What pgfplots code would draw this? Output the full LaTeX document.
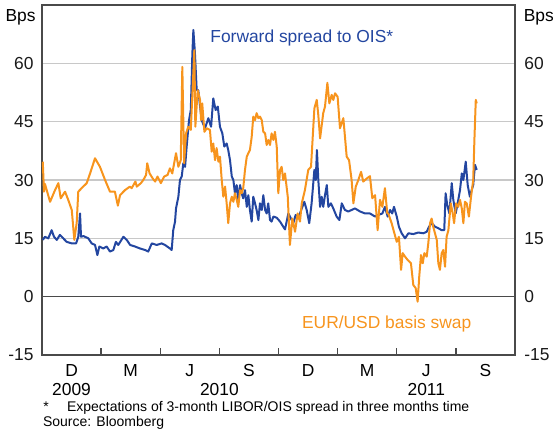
\documentclass[border=0pt]{standalone}
\usepackage{fontspec}
\setmainfont{Liberation Sans}
\usepackage{pgfplots}
\pgfplotsset{compat=1.18}
\definecolor{fwdblue}{HTML}{2346A0}
\definecolor{basisorange}{HTML}{F7941D}
\definecolor{gridgrey}{HTML}{C8C8C8}
\definecolor{framegrey}{HTML}{4A4A4A}

% x = months since 1 Oct 2009
\begin{document}
\begin{tikzpicture}
\pgfplotsset{
  rbaframe/.style={
    width=236.5bp, height=175bp, scale only axis,
    at={(21bp,-177.5bp)}, anchor=south west,
    xmin=0, xmax=24, ymin=-15, ymax=75,
    ytick={-15,0,15,30,45,60},
    yticklabels={-15,0,15,30,45,60},
    tick label style={font=\fontsize{8.7bp}{10bp}\selectfont, text=black!90},
    axis line style={draw=framegrey, line width=0.65bp},
  }
}
\begin{axis}[rbaframe,
  xtick={3,6,...,21}, xticklabels={},
  tick pos=bottom,
  x tick style={draw=framegrey, line width=0.65bp},
  xtick align=inside, major tick length=3.5bp,
  y tick style={draw=none},
  yticklabel style={anchor=east, inner sep=0pt, xshift=-4bp},
  ymajorgrids=true,
  major grid style={draw=gridgrey, line width=0.6bp},
  extra y ticks={0}, extra y tick labels={},
  extra y tick style={grid=major, major grid style={draw=framegrey, line width=0.7bp}, tick style={draw=none}},
  clip=false,
]
\addplot[fwdblue, line width=1bp, line join=round, mark=none] coordinates {
(0.04,14.6) (0.15,15.4) (0.32,15.0) (0.49,17.1) (0.61,15.4) (0.75,14.6) (0.91,15.9)
(1.08,15.0) (1.25,14.1) (1.51,13.7) (1.73,13.7) (1.84,15.4) (1.93,21.4) (1.98,15.4)
(2.10,15.6) (2.35,15.0) (2.52,13.7) (2.69,13.3) (2.81,10.7) (2.91,12.9) (3.11,12.4)
(3.28,12.9) (3.45,11.6) (3.62,12.0) (3.75,14.1) (3.87,13.3) (4.13,15.4) (4.30,14.6)
(4.47,13.3) (4.72,12.9) (4.97,12.4) (5.23,12.0) (5.39,11.6) (5.57,13.7) (5.82,13.3)
(6.07,13.7) (6.24,13.3) (6.49,12.4) (6.58,12.0) (6.66,17.1) (6.75,19.3) (6.80,22.7)
(6.92,25.7) (7.00,30.0) (7.09,30.9) (7.17,34.3) (7.26,33.4) (7.34,38.6) (7.46,45.4)
(7.55,48.0) (7.63,62.6) (7.68,68.6) (7.76,62.6) (7.85,53.1) (7.93,53.1) (8.10,45.4)
(8.27,43.3) (8.44,45.9) (8.58,43.7) (8.69,51.0) (8.81,48.0) (8.92,48.9) (9.03,43.7)
(9.15,42.0) (9.25,38.6) (9.37,39.4) (9.45,37.7) (9.54,35.1) (9.63,30.9) (9.71,30.0)
(9.79,26.6) (9.88,28.7) (9.96,24.9) (10.05,28.7) (10.13,26.6) (10.21,25.3) (10.30,27.4)
(10.39,23.1) (10.47,26.1) (10.55,22.3) (10.64,19.3) (10.72,25.7) (10.81,24.0) (10.89,22.3)
(10.98,19.7) (11.06,24.0) (11.15,22.3) (11.23,26.1) (11.32,22.3) (11.40,21.4) (11.48,24.0)
(11.57,19.7) (11.65,19.3) (11.74,20.6) (11.91,20.3) (12.08,19.3) (12.24,18.0)
(12.33,17.3) (12.50,21.4) (12.63,20.1) (12.75,18.9) (12.87,21.0) (13.00,20.1)
(13.18,22.7) (13.31,24.4) (13.43,22.3) (13.56,18.9) (13.68,24.0) (13.82,32.6) (13.89,30.0)
(13.95,37.7) (14.02,30.0) (14.11,23.1) (14.19,25.7) (14.27,23.1) (14.36,26.1) (14.45,28.7)
(14.53,23.1) (14.66,24.0) (14.78,22.7) (14.95,20.6) (15.09,19.7) (15.21,24.0) (15.37,22.3)
(15.54,21.9) (15.71,22.3) (15.88,22.7) (16.14,21.9) (16.39,21.4) (16.64,21.4) (16.90,20.6)
(17.06,21.0) (17.27,21.4) (17.40,23.1) (17.54,20.6) (17.66,22.3) (17.77,21.4) (17.86,23.1)
(18.00,20.6) (18.11,18.0) (18.25,16.3) (18.42,15.0) (18.59,16.3) (18.84,16.1) (19.09,16.5)
(19.35,16.3) (19.52,16.7) (19.64,18.0) (19.77,18.9) (19.94,18.0) (20.11,17.6) (20.28,17.1)
(20.41,17.1) (20.48,26.6) (20.56,23.6) (20.67,21.4) (20.79,29.2) (20.87,24.9) (20.99,21.4)
(21.09,24.0) (21.21,27.4) (21.30,31.7) (21.38,30.0) (21.50,34.7) (21.60,28.7) (21.71,25.7)
(21.80,27.4) (21.88,28.7) (21.97,33.9) (22.06,32.6)
};
\addplot[basisorange, line width=1bp, line join=round, mark=none] coordinates {
(0.04,34.7) (0.10,27.0) (0.15,29.0) (0.41,24.4) (0.66,27.4) (0.83,29.2) (0.95,25.3)
(1.17,27.0) (1.33,24.9) (1.51,22.3) (1.64,14.6) (1.76,19.0) (1.84,27.0) (2.01,27.9)
(2.27,29.2) (2.44,31.7) (2.69,35.6) (2.94,33.4) (3.20,30.0) (3.45,27.0) (3.70,27.0)
(3.85,23.4) (3.96,26.1) (4.21,27.4) (4.46,28.3) (4.55,27.9) (4.74,29.6) (4.81,28.3)
(5.02,29.2) (5.14,30.0) (5.28,31.3) (5.34,34.3) (5.46,31.7) (5.62,30.4) (5.74,29.6)
(5.86,30.9) (6.03,29.2) (6.20,30.9) (6.37,31.3) (6.49,33.0) (6.61,31.7) (6.80,36.9)
(6.92,33.4) (7.04,35.1) (7.12,59.1) (7.21,34.3) (7.31,42.0) (7.42,43.7) (7.55,42.9)
(7.73,63.4) (7.78,43.7) (7.90,53.1) (8.02,50.6) (8.07,45.4) (8.13,49.7) (8.24,42.4)
(8.36,43.3) (8.52,42.9) (8.61,37.3) (8.69,39.4) (8.78,35.1) (8.86,38.2) (8.95,34.7)
(9.03,36.0) (9.12,30.0) (9.20,25.7) (9.29,28.3) (9.37,24.0) (9.45,18.9) (9.54,24.0)
(9.63,25.7) (9.71,24.4) (9.79,26.6) (9.88,24.9) (9.96,23.1) (10.05,27.4) (10.13,26.6)
(10.21,27.9) (10.30,32.6) (10.39,36.0) (10.47,36.9) (10.55,37.7) (10.64,41.1) (10.72,46.3)
(10.81,45.4) (10.89,47.2) (10.98,45.9) (11.06,46.3) (11.15,45.4) (11.23,42.4) (11.32,42.0)
(11.40,39.0) (11.48,40.3) (11.57,39.0) (11.65,42.0) (11.74,40.3) (11.82,42.4) (11.91,38.6)
(11.99,26.6) (12.08,32.6) (12.16,33.4) (12.24,30.0)
(12.33,31.7) (12.47,25.7) (12.58,13.3) (12.70,20.1) (12.84,16.7)
(12.97,21.4) (13.09,19.3) (13.18,24.0) (13.34,27.4) (13.51,32.6) (13.65,33.4) (13.82,48.4)
(13.94,50.6) (14.02,46.7) (14.11,40.7) (14.27,47.2) (14.36,48.9) (14.48,55.0) (14.58,49.7)
(14.70,51.9) (14.78,50.6) (14.87,52.3) (15.00,51.4) (15.12,43.3) (15.29,45.9) (15.46,36.0)
(15.58,35.1) (15.71,30.0) (15.80,24.0) (15.92,28.3) (16.05,30.0) (16.19,32.1) (16.30,29.6)
(16.48,30.4) (16.64,31.0) (16.76,25.3) (16.90,26.1) (17.03,17.1) (17.15,24.9) (17.27,23.1)
(17.40,27.9) (17.52,21.4) (17.57,21.4) (17.74,18.9) (17.88,16.3) (18.00,14.1) (18.11,15.4)
(18.22,6.9) (18.30,11.2) (18.42,10.3) (18.56,9.4) (18.72,8.6) (18.84,3.0) (18.96,2.2)
(19.06,-1.3) (19.14,5.1) (19.23,10.7) (19.32,8.6) (19.40,11.2) (19.52,10.3) (19.60,13.7)
(19.69,18.9) (19.77,20.1) (19.85,18.0) (19.94,16.3) (20.03,14.6) (20.11,8.6) (20.19,6.9)
(20.28,11.2) (20.36,12.0) (20.45,7.7) (20.53,15.4) (20.62,17.1) (20.74,24.0) (20.84,21.4)
(20.91,18.9) (21.01,24.0) (21.12,23.1) (21.21,24.9) (21.30,22.7) (21.38,18.9) (21.46,24.4)
(21.55,24.0) (21.66,20.6) (21.77,25.7) (21.88,30.0) (21.94,40.3) (22.01,50.6) (22.06,49.7)
};
% quarter labels and years
\node[anchor=base, yshift=-10.85bp, font=\fontsize{8.7bp}{10bp}\selectfont] at (axis cs:1.5,-15) {D};
\node[anchor=base, yshift=-10.85bp, font=\fontsize{8.7bp}{10bp}\selectfont] at (axis cs:4.5,-15) {M};
\node[anchor=base, yshift=-10.85bp, font=\fontsize{8.7bp}{10bp}\selectfont] at (axis cs:7.5,-15) {J};
\node[anchor=base, yshift=-10.85bp, font=\fontsize{8.7bp}{10bp}\selectfont] at (axis cs:10.5,-15) {S};
\node[anchor=base, yshift=-10.85bp, font=\fontsize{8.7bp}{10bp}\selectfont] at (axis cs:13.5,-15) {D};
\node[anchor=base, yshift=-10.85bp, font=\fontsize{8.7bp}{10bp}\selectfont] at (axis cs:16.5,-15) {M};
\node[anchor=base, yshift=-10.85bp, font=\fontsize{8.7bp}{10bp}\selectfont] at (axis cs:19.5,-15) {J};
\node[anchor=base, yshift=-10.85bp, font=\fontsize{8.7bp}{10bp}\selectfont] at (axis cs:22.5,-15) {S};
\node[anchor=base, yshift=-20bp, font=\fontsize{8.7bp}{10bp}\selectfont] at (axis cs:1.5,-15) {2009};
\node[anchor=base, yshift=-20bp, font=\fontsize{8.7bp}{10bp}\selectfont] at (axis cs:9,-15) {2010};
\node[anchor=base, yshift=-20bp, font=\fontsize{8.7bp}{10bp}\selectfont] at (axis cs:19.5,-15) {2011};
\end{axis}
% right-hand scale
\begin{axis}[rbaframe,
  axis x line=none, axis y line*=right,
  y tick style={draw=none}, major tick length=0pt,
  yticklabel style={anchor=west, inner sep=0pt, xshift=4.5bp},
]
\addplot[draw=none, mark=none] coordinates {(0,0) (24,0)};
\end{axis}

\node[anchor=base east, inner sep=0pt, font=\fontsize{8.7bp}{10bp}\selectfont] at (18bp,-10.85bp) {Bps};
\node[anchor=base west, inner sep=0pt, font=\fontsize{8.7bp}{10bp}\selectfont] at (261.7bp,-10.85bp) {Bps};
\node[anchor=base west, inner sep=0pt, text=fwdblue, font=\fontsize{8.7bp}{10bp}\selectfont] at (105bp,-21.35bp) {Forward spread to OIS*};
\node[anchor=base west, inner sep=0pt, text=basisorange, font=\fontsize{8.7bp}{10bp}\selectfont] at (150.85bp,-164.15bp) {EUR/USD basis swap};
\node[anchor=base west, inner sep=0pt, font=\fontsize{7bp}{8bp}\selectfont] at (21.5bp,-205.5bp) {*};
\node[anchor=base west, inner sep=0pt, font=\fontsize{7bp}{8bp}\selectfont] at (33.3bp,-205.5bp) {Expectations of 3-month LIBOR/OIS spread in three months time};
\node[anchor=base west, inner sep=0pt, font=\fontsize{7bp}{8bp}\selectfont] at (21.3bp,-213bp) {Source: Bloomberg};

\pgfresetboundingbox
\useasboundingbox (0,0) rectangle (276.5bp,-215.5bp);
\end{tikzpicture}
\end{document}
